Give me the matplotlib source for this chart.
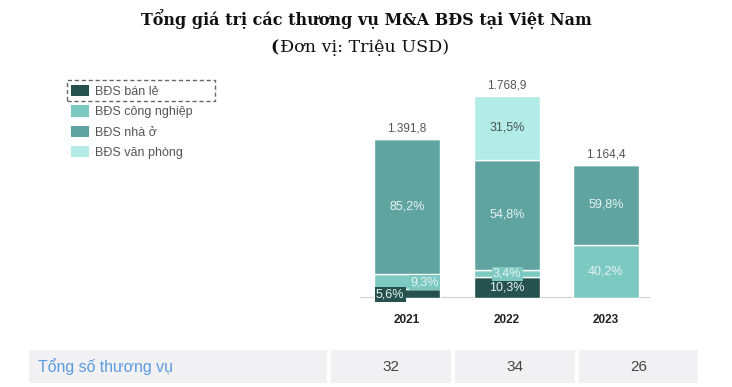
import matplotlib
matplotlib.use("Agg")
import matplotlib.pyplot as plt
from matplotlib.patches import Rectangle
import numpy as np

years = ["2021", "2022", "2023"]
totals = [1391.8, 1768.9, 1164.4]
series_names = ["BĐS bán lẻ", "BĐS công nghiệp", "BĐS nhà ở", "BĐS văn phòng"]
pct_ban_le = [5.6, 10.3, 0.0]
pct_cong_nghiep = [9.3, 3.4, 40.2]
pct_nha_o = [85.2, 54.8, 59.8]
pct_van_phong = [0.0, 31.5, 0.0]
deal_counts = [32, 34, 26]
row_label = "Tổng số thương vụ"

colors = ["#25524f", "#7cc9c1", "#5fa4a1", "#b3ebe6"]
total_labels = ["1.391,8", "1.768,9", "1.164,4"]

W, H = 732, 387
fig = plt.figure(figsize=(W / 100, H / 100), dpi=100)

def fx(px):
    return px / W

def fy(py):
    return 1 - py / H

sans = ["Liberation Sans", "DejaVu Sans"]
serif = ["DejaVu Serif"]

# Title
fig.text(fx(366), fy(19), "Tổng giá trị các thương vụ M&A BĐS tại Việt Nam",
         ha="center", va="center", fontsize=11.55, fontweight="bold",
         family=serif, color="#111111")
fig.text(fx(275), fy(48), "(", ha="center", va="center", fontsize=12.6,
         fontweight="bold", family=serif, color="#111111")
fig.text(fx(280), fy(48), "Đơn vị: Triệu USD)", ha="left", va="center", fontsize=12.6,
         family=serif, color="#111111")

# Bar axes
ax = fig.add_axes([fx(360), fy(298), fx(650) - fx(360), (298 - 80) / H])
xpos = np.array([0.0, 1.0, 1.99])
series = [pct_ban_le, pct_cong_nghiep, pct_nha_o, pct_van_phong]
bottoms = np.zeros(len(years))
bars = []
for name, pct, c in zip(series_names, series, colors):
    vals = np.array(totals) * np.array(pct) / 100.0
    b = ax.bar(xpos, vals, width=0.66, bottom=bottoms, color=c, edgecolor="white",
               linewidth=1.0, label=name)
    bars.append((b, vals, bottoms.copy()))
    bottoms = bottoms + vals

ax.set_xlim(-0.47, 2.43)
ax.set_ylim(0, 218 / 0.1142)
ax.axis("off")
ax.axhline(0, color="#cfcfcf", lw=1.5, zorder=0)

# total labels
for xi, tot, lab in zip(xpos, totals, total_labels):
    ax.text(xi, tot + 40, lab, ha="center", va="bottom", fontsize=8.5, color="#555555", family=sans)

# year labels
for xi, yr in zip(xpos, years):
    ax.text(xi, -190, yr, ha="center", va="center", fontsize=8.5, fontweight="bold",
            color="#222222", family=sans, clip_on=False)

txtc = "#e6f3f1"
def pct_str(p):
    return f"{p:.1f}%".replace(".", ",")

# Inside labels
for si, (b, vals, bots) in enumerate(bars):
    pcts = series[si]
    for i in range(len(years)):
        if pcts[i] <= 0:
            continue
        mid = bots[i] + vals[i] / 2
        if vals[i] > 300:
            col = "#4a5656" if si == 3 else txtc
            ax.text(xpos[i], mid, pct_str(pcts[i]), ha="center", va="center",
                    fontsize=9, color=col, family=sans)

# small labels with boxes
ax.text(xpos[0] - 0.31, 28, pct_str(pct_ban_le[0]), ha="left", va="center", fontsize=9,
        color=txtc, family=sans, clip_on=False,
        bbox=dict(boxstyle="square,pad=0.12", fc=colors[0], ec="none"))
b0 = totals[0] * pct_ban_le[0] / 100
v1 = totals[0] * pct_cong_nghiep[0] / 100
ax.text(xpos[0] + 0.32, b0 + v1 / 2 - 5, pct_str(pct_cong_nghiep[0]), ha="right", va="center",
        fontsize=9, color=txtc, family=sans,
        bbox=dict(boxstyle="square,pad=0.1", fc=colors[1], ec="none"))
v0 = totals[1] * pct_ban_le[1] / 100
ax.text(xpos[1], v0 / 2, pct_str(pct_ban_le[1]), ha="center", va="center", fontsize=9,
        color=txtc, family=sans)
v1b = totals[1] * pct_cong_nghiep[1] / 100
ax.text(xpos[1], v0 + v1b / 2, pct_str(pct_cong_nghiep[1]), ha="center", va="center",
        fontsize=9, color=txtc, family=sans,
        bbox=dict(boxstyle="square,pad=0.1", fc=colors[1], ec="none"))

# Legend
handles = [bb[0] for bb in bars]
leg = fig.legend(handles, series_names, loc="upper left",
                 bbox_to_anchor=(fx(71), fy(85)), frameon=False,
                 prop={"family": sans, "size": 9}, labelcolor="#555555",
                 handlelength=1.4, handleheight=1.0, handletextpad=0.55,
                 labelspacing=0.6, borderaxespad=0, borderpad=0.0)
for h in leg.legend_handles:
    h.set_edgecolor("none")
fig.add_artist(Rectangle((fx(67), fy(101)), fx(215) - fx(67), (101 - 80) / H,
                         transform=fig.transFigure, fill=False, ls=(0, (3, 2)),
                         ec="#666666", lw=1.0))

# Table
cells = [(29, 327), (331, 451), (455, 575), (579, 698)]
ytop, ybot = 350, 383
for (x0, x1) in cells:
    fig.add_artist(Rectangle((fx(x0), fy(ybot)), fx(x1) - fx(x0), (ybot - ytop) / H,
                             transform=fig.transFigure, fc="#f1f1f3", ec="none"))
fig.text(fx(38), fy(367), row_label, ha="left", va="center", fontsize=11.4,
         color="#5a9be0", family=sans)
for (x0, x1), n in zip(cells[1:], deal_counts):
    fig.text(fx((x0 + x1) / 2), fy(367), str(n), ha="center", va="center",
             fontsize=11, color="#444444", family=sans)

fig.savefig("out.png", dpi=100)
